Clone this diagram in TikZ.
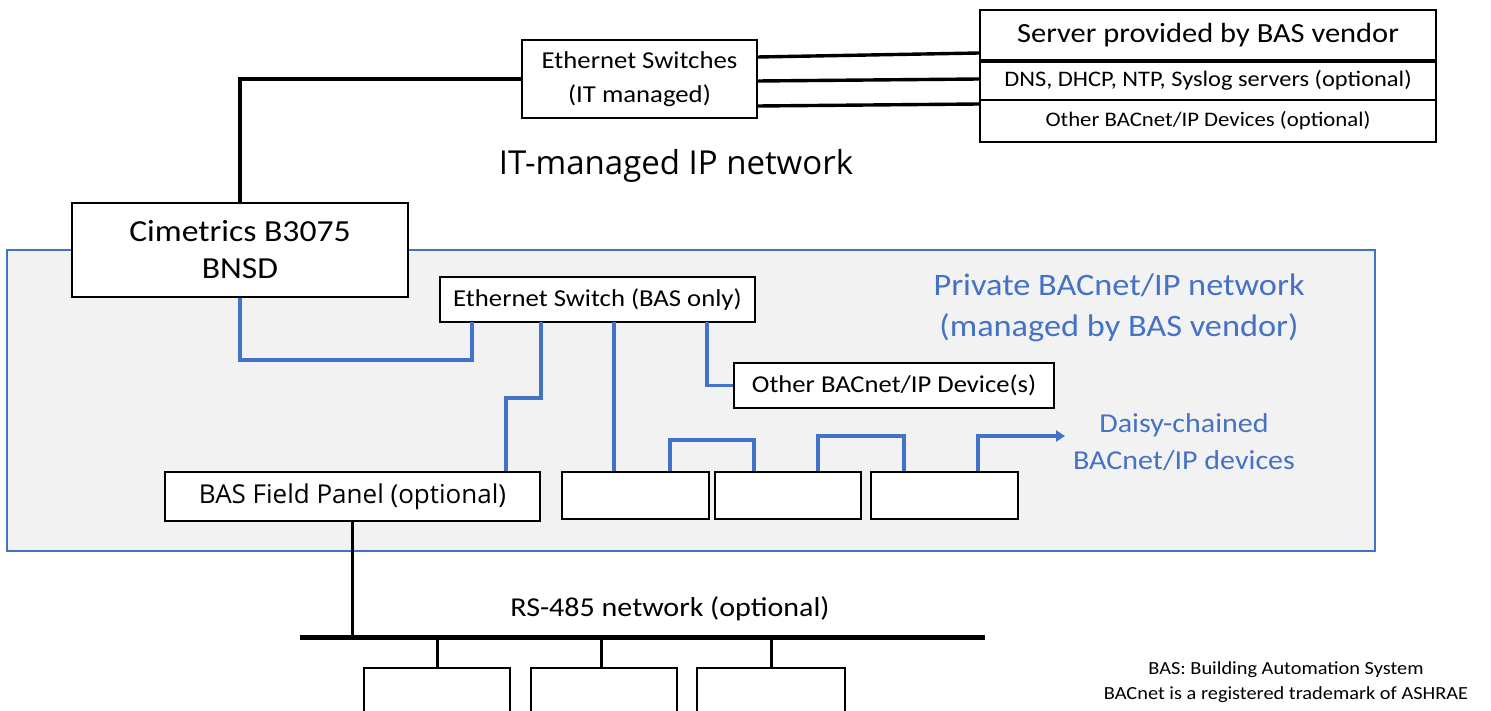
\documentclass[tikz,border=0pt]{standalone}
\usepackage{fontspec}
\setmainfont{Carlito}[FakeStretch=1.1]
\newfontfamily\segoe{Open Sans}
\usetikzlibrary{calc,arrows.meta}
\definecolor{basblue}{HTML}{4472C4}
\definecolor{privfill}{HTML}{F2F2F2}
\newcommand{\fs}[2]{\fontsize{#1}{#2}\selectfont}
\begin{document}
\begin{tikzpicture}[x=1pt,y=-1pt,
  box/.style={draw=black, fill=white, line width=1.8pt, inner sep=0pt, align=center},
  blk/.style={draw=black, line width=3.4pt},
  blu/.style={draw=basblue, line width=3.4pt},
  bus/.style={draw=black, line width=5pt},
  drop/.style={draw=black, line width=3pt},
  bluetext/.style={text=basblue, align=center, inner sep=0pt}]
\useasboundingbox (0,0) rectangle (1491,711);
\clip (0,0) rectangle (1491,711);
% private network region
\draw[draw=basblue, fill=privfill, line width=1.6pt] (7,250) rectangle (1375,551);

% top part
\node[box, minimum width=235, minimum height=78, font=\fs{24.3}{34}] (eth) at (639.5,79) {Ethernet Switches\\(IT managed)};
\node[box, minimum width=456, minimum height=50, font=\fs{27.7}{30}] (srv1) at (1208,35) {Server provided by BAS vendor};
\node[box, minimum width=456, minimum height=40, font=\fs{22.2}{24}] (srv2) at (1208,80) {DNS, DHCP, NTP, Syslog servers (optional)};
\node[box, minimum width=456, minimum height=42, font=\fs{20.7}{24}] (srv3) at (1208,121) {Other BACnet/IP Devices (optional)};
\draw[line width=3.4pt] (srv1.south west) -- (srv1.south east);
\node[box, minimum width=336, minimum height=94, font=\fs{30.6}{37}] (cim) at (240,250) {Cimetrics B3075\\BNSD};

\draw[blk] ($(eth.east)+(0,-22)$) -- ($(srv1.west)+(0,18)$);
\draw[blk] ($(eth.east)+(0,2)$) -- ($(srv2.west)+(0,-1)$);
\draw[blk] ($(eth.east)+(0,27)$) -- ($(srv3.west)+(0,-17)$);
\draw[blk] (eth.west) -| (cim.north);

\node[inner sep=0pt, font=\segoe\fs{33}{36}] (itnet) at (676,166) {IT-managed IP network};

% private network
\node[box, minimum width=315, minimum height=45, font=\fs{24.3}{28}] (sw) at (597.5,299.5) {Ethernet Switch (BAS only)};
\node[box, minimum width=320, minimum height=45, font=\fs{24.2}{28}] (oth) at (894,385.5) {Other BACnet/IP Device(s)};
\node[bluetext, font=\fs{31.2}{41}] (privlbl) at (1119,308) {Private BACnet/IP network\\(managed by BAS vendor)};
\node[box, minimum width=375, minimum height=49, font=\segoe\fs{26}{29}] (fp) at (352.5,496.5) {BAS Field Panel (optional)};
\node[box, minimum width=147, minimum height=47] (d1) at (635.5,495.5) {};
\node[box, minimum width=146, minimum height=47] (d2) at (788,495.5) {};
\node[box, minimum width=147, minimum height=47] (d3) at (944.5,495.5) {};
\node[bluetext, font=\fs{27.3}{37}] (daisy) at (1184,442.5) {Daisy-chained\\BACnet/IP devices};

\draw[blu] (cim.south) |- (472,360) -- (472,322);
\draw[blu] (541,322) |- (506,398) -- (fp.north -| 506,0);
\draw[blu] (614,322) -- (d1.north -| 614,0);
\draw[blu] (707,322) |- (oth.west);
\draw[blu] (d1.north -| 670,0) |- (754,440) -- (d2.north -| 754,0);
\draw[blu] (d2.north -| 818,0) |- (904,436) -- (d3.north -| 904,0);
\draw[blu, -{Triangle[length=9pt,width=11pt]}] (d3.north -| 978,0) |- (1065,436);

% RS-485
\coordinate (busL) at (300,637);
\coordinate (busR) at (985,637);
\draw[bus] (busL) -- (busR);
\draw[drop] (fp.south) -- (fp.south |- busL);
\node[inner sep=0pt, font=\fs{27.3}{30}] (rslbl) at (670,609) {RS-485 network (optional)};
\node[box, minimum width=146, minimum height=60, anchor=north] (r1) at (437,667) {};
\node[box, minimum width=146, minimum height=60, anchor=north] (r2) at (604,667) {};
\node[box, minimum width=148, minimum height=60, anchor=north] (r3) at (771,667) {};
\draw[drop] (r1.north -| 437,0) -- (437,637);
\draw[drop] (r2.north -| 601,0) -- (601,637);
\draw[drop] (r3.north) -- (771,637);

\node[inner sep=0pt, align=center, font=\fs{18.5}{25}] (notes) at (1286,682) {BAS: Building Automation System\\BACnet is a registered trademark of ASHRAE};
\end{tikzpicture}
\end{document}
